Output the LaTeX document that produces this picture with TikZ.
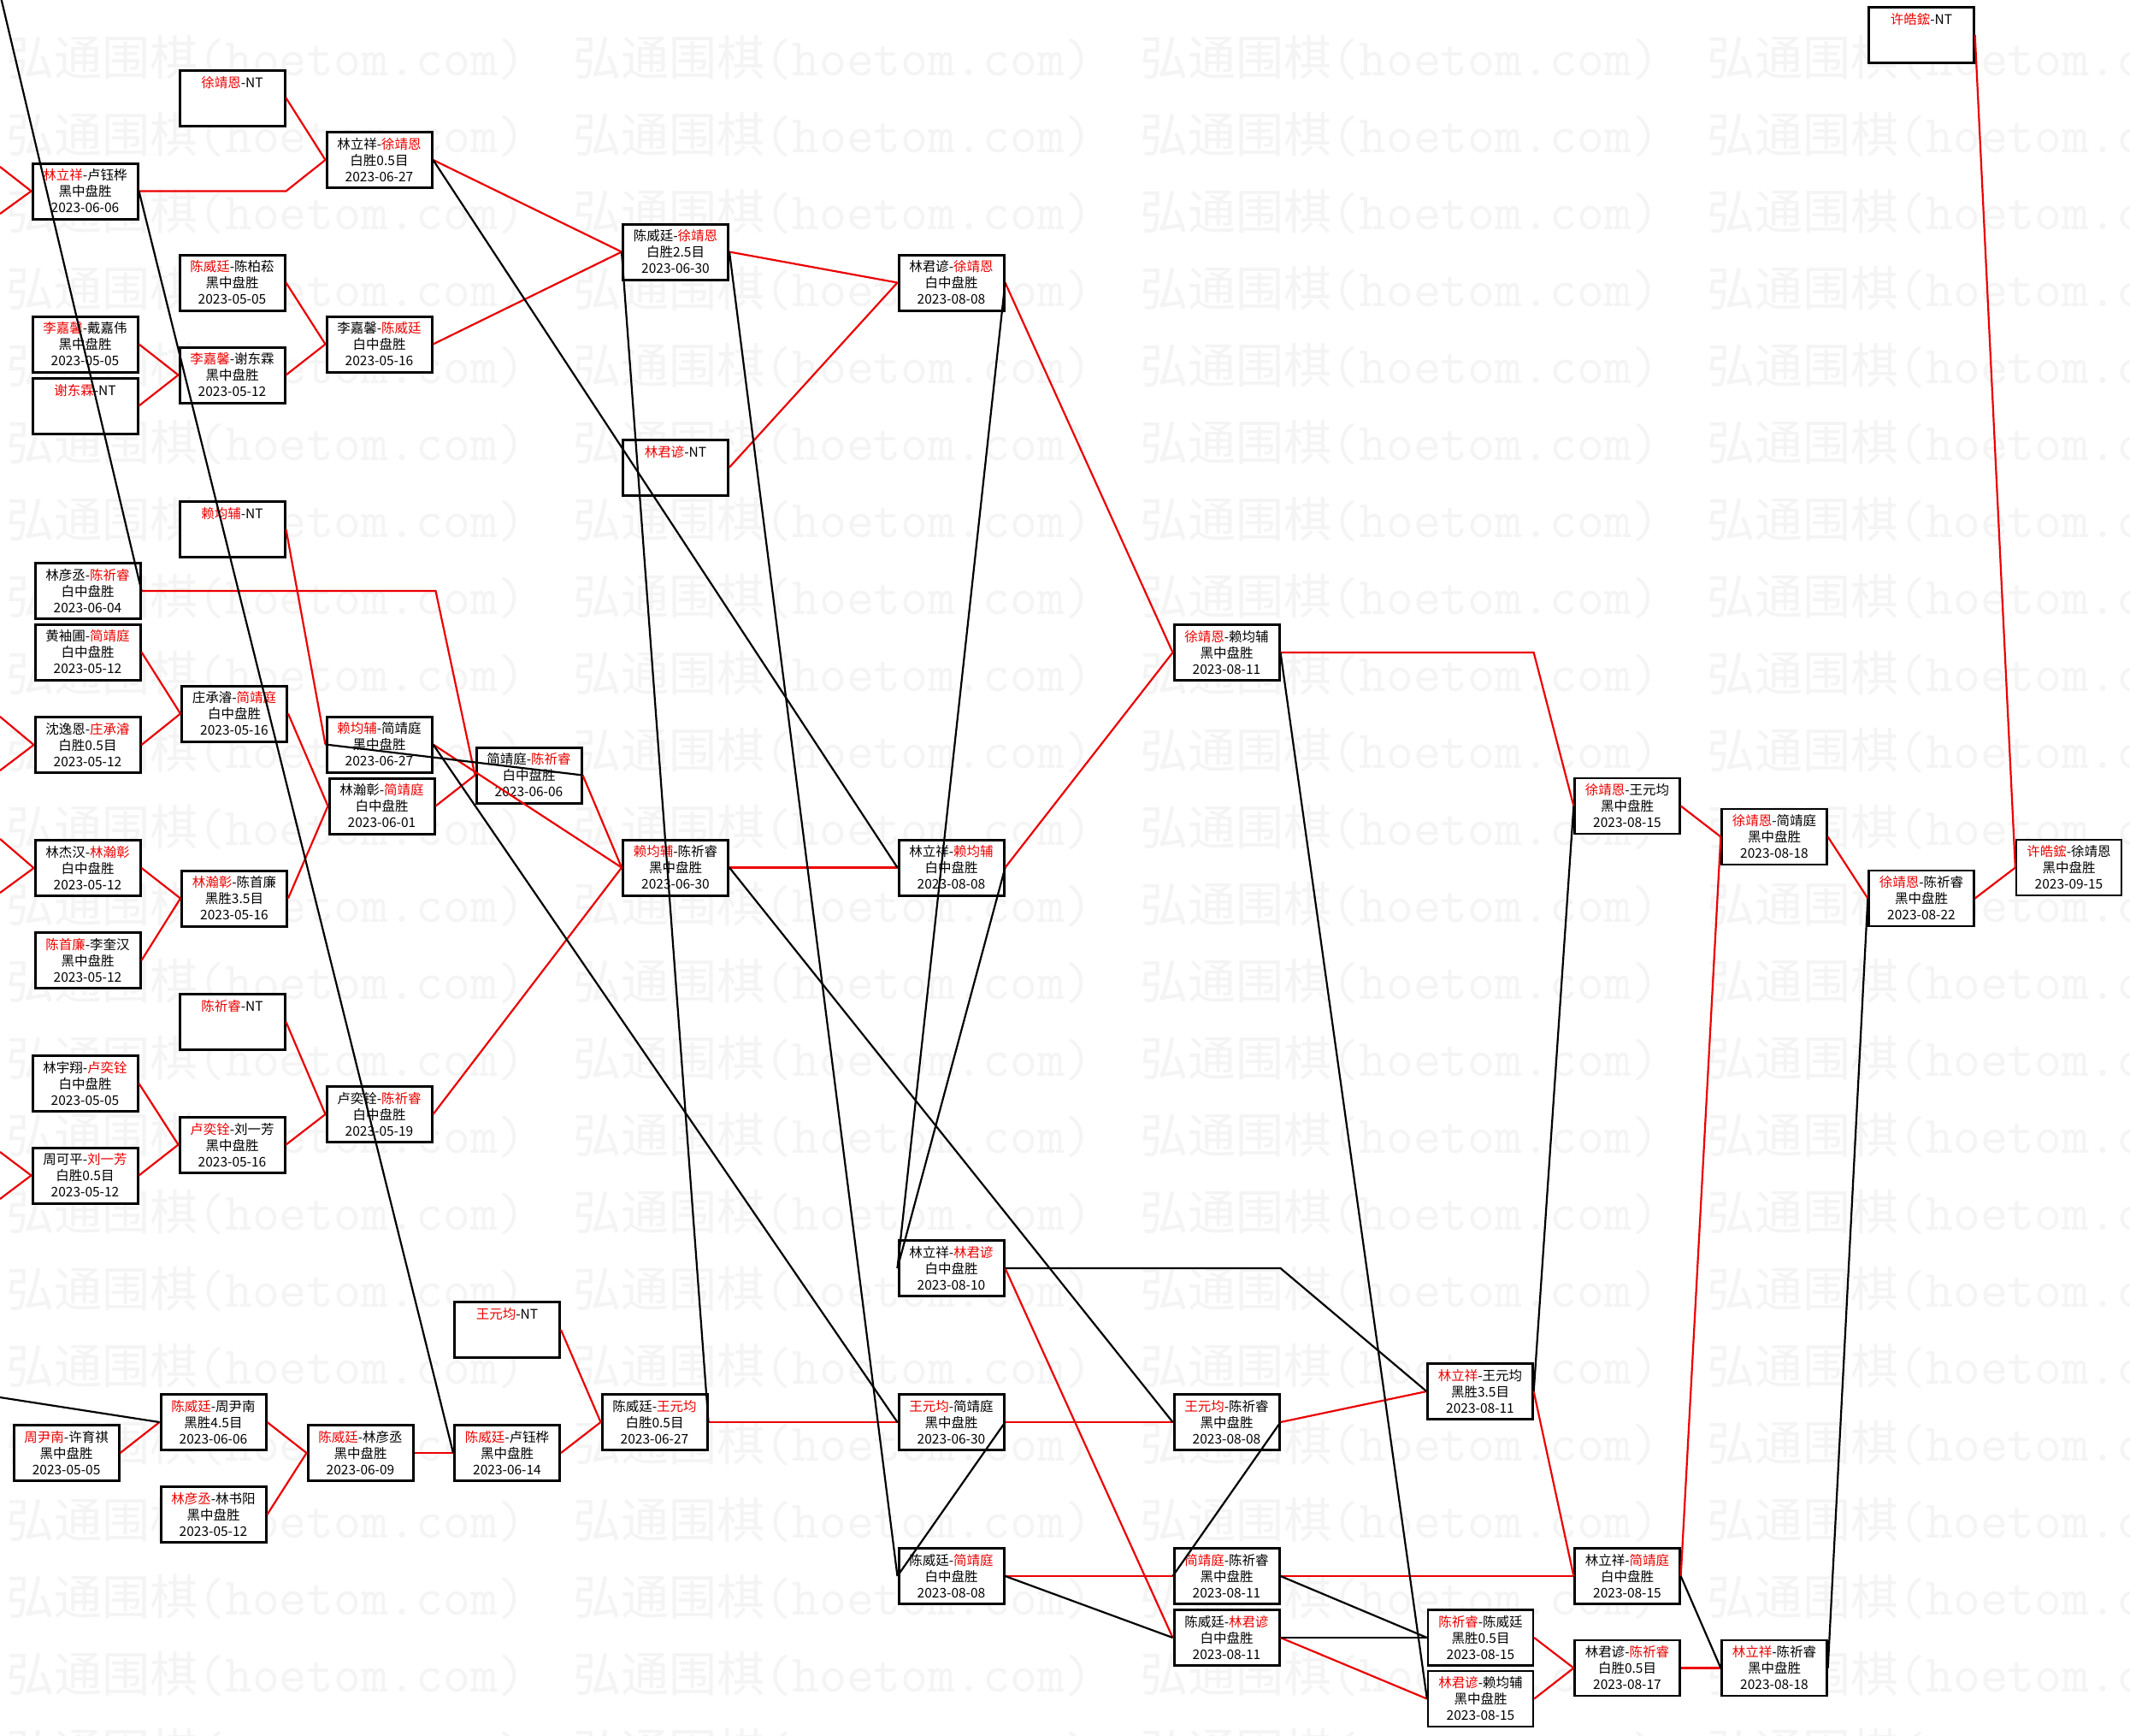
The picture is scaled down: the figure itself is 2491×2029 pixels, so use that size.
\documentclass[tikz,border=0pt]{standalone}
\usepackage{fontspec}
\setmainfont{Noto Sans CJK SC}
\newfontfamily\wmcjk{Noto Sans CJK SC}
\definecolor{wred}{RGB}{235,0,0}
\definecolor{wmark}{RGB}{244,244,244}
\newcommand\rn[1]{\textcolor{wred}{#1}}
\tikzset{
  game/.style={draw=black,line width=3pt,fill=white,minimum width=123pt,minimum height=65pt,inner sep=0pt,align=center,font=\fontsize{15.5}{19}\selectfont},
  gameR/.style={game,line width=2.3pt},
  win/.style={draw=wred,line width=2.2pt},
  lose/.style={draw=black,line width=2.2pt},
  wmtext/.style={anchor=base west,inner sep=0pt,text=wmark}
}
\newcommand\gm[6][game]{\node[#1] (#2) at (#3) {#4\\#5\\#6};}
\newcommand\ntg[4][game]{\node[#1] (#2) at (#3) {#4\\\mbox{}\\\mbox{}};}
\begin{document}
\begin{tikzpicture}[x=1pt,y=-1pt]
\useasboundingbox (0,0) rectangle (2491,2029);
\fill[white] (0,0) rectangle (2491,2029);
\clip (0,0) rectangle (2491,2029);
% watermark
\foreach \k in {0,...,22}{\foreach \j in {0,...,3}{
  \node[wmtext] (wm-\k-\j) at ({7+663*\j},{88+90*\k}) {{\wmcjk\fontsize{56}{56}\selectfont 弘通围棋}{\ttfamily\fontsize{62}{62}\selectfont (hoetom.com)}};}}
% nodes
\gm{n1}{99.5,223.5}{\rn{林立祥}-卢钰桦}{黑中盘胜}{2023-06-06}
\ntg{n2}{271.5,114.5}{\rn{徐靖恩}-NT}
\gm{n3}{443.5,187}{林立祥-\rn{徐靖恩}}{白胜0.5目}{2023-06-27}
\gm{n4}{271.5,330.5}{\rn{陈威廷}-陈柏菘}{黑中盘胜}{2023-05-05}
\gm{n5}{99.5,402.5}{\rn{李嘉馨}-戴嘉伟}{黑中盘胜}{2023-05-05}
\gm{n6}{271.5,438.5}{\rn{李嘉馨}-谢东霖}{黑中盘胜}{2023-05-12}
\gm{n7}{443.5,402.5}{李嘉馨-\rn{陈威廷}}{白中盘胜}{2023-05-16}
\ntg{n8}{99.5,474.5}{\rn{谢东霖}-NT}
\ntg{n9}{271.5,619}{\rn{赖均辅}-NT}
\gm{n10}{102.5,691}{林彦丞-\rn{陈祈睿}}{白中盘胜}{2023-06-04}
\gm{n11}{102.5,762.5}{黄袖圃-\rn{简靖庭}}{白中盘胜}{2023-05-12}
\gm{n12}{274,834.5}{庄承濬-\rn{简靖庭}}{白中盘胜}{2023-05-16}
\gm{n13}{102.5,871}{沈逸恩-\rn{庄承濬}}{白胜0.5目}{2023-05-12}
\gm{n14}{443.5,870.5}{\rn{赖均辅}-简靖庭}{黑中盘胜}{2023-06-27}
\gm{n15}{446.5,942.5}{林瀚彰-\rn{简靖庭}}{白中盘胜}{2023-06-01}
\gm{n16}{102.5,1015}{林杰汉-\rn{林瀚彰}}{白中盘胜}{2023-05-12}
\gm{n17}{274,1050.5}{\rn{林瀚彰}-陈首廉}{黑胜3.5目}{2023-05-16}
\gm{n18}{102.5,1123}{\rn{陈首廉}-李奎汉}{黑中盘胜}{2023-05-12}
\ntg{n19}{271.5,1195}{\rn{陈祈睿}-NT}
\gm{n20}{99.5,1267}{林宇翔-\rn{卢奕铨}}{白中盘胜}{2023-05-05}
\gm{n21}{271.5,1338.5}{\rn{卢奕铨}-刘一芳}{黑中盘胜}{2023-05-16}
\gm{n22}{443.5,1303}{卢奕铨-\rn{陈祈睿}}{白中盘胜}{2023-05-19}
\gm{n23}{99.5,1374.5}{周可平-\rn{刘一芳}}{白胜0.5目}{2023-05-12}
\gm{n24}{77.6,1699}{\rn{周尹南}-许育祺}{黑中盘胜}{2023-05-05}
\gm{n25}{249.5,1663}{\rn{陈威廷}-周尹南}{黑胜4.5目}{2023-06-06}
\gm{n26}{249.5,1771}{\rn{林彦丞}-林书阳}{黑中盘胜}{2023-05-12}
\gm{n27}{421.5,1699}{\rn{陈威廷}-林彦丞}{黑中盘胜}{2023-06-09}
\gm{n28}{593,1699}{\rn{陈威廷}-卢钰桦}{黑中盘胜}{2023-06-14}
\ntg{n29}{593,1555}{\rn{王元均}-NT}
\gm{n30}{765.5,1663}{陈威廷-\rn{王元均}}{白胜0.5目}{2023-06-27}
\gm{n31}{1112.5,1663}{\rn{王元均}-简靖庭}{黑中盘胜}{2023-06-30}
\gm{n32}{618.5,906.5}{简靖庭-\rn{陈祈睿}}{白中盘胜}{2023-06-06}
\gm{n33}{790,294.5}{陈威廷-\rn{徐靖恩}}{白胜2.5目}{2023-06-30}
\ntg{n34}{790,546.5}{\rn{林君谚}-NT}
\gm{n35}{790,1014.5}{\rn{赖均辅}-陈祈睿}{黑中盘胜}{2023-06-30}
\gm{n36}{1112.5,330.5}{林君谚-\rn{徐靖恩}}{白中盘胜}{2023-08-08}
\gm{n37}{1112.5,1014.5}{林立祥-\rn{赖均辅}}{白中盘胜}{2023-08-08}
\gm{n38}{1112.5,1483}{林立祥-\rn{林君谚}}{白中盘胜}{2023-08-10}
\gm{n39}{1112.5,1843}{陈威廷-\rn{简靖庭}}{白中盘胜}{2023-08-08}
\gm{n40}{1434.5,763}{\rn{徐靖恩}-赖均辅}{黑中盘胜}{2023-08-11}
\gm{n41}{1434.5,1663}{\rn{王元均}-陈祈睿}{黑中盘胜}{2023-08-08}
\gm{n42}{1434.5,1843}{\rn{简靖庭}-陈祈睿}{黑中盘胜}{2023-08-11}
\gm{n43}{1434.5,1915}{陈威廷-\rn{林君谚}}{白中盘胜}{2023-08-11}
\gm[gameR]{n44}{1731,1627}{\rn{林立祥}-王元均}{黑胜3.5目}{2023-08-11}
\gm[gameR]{n45}{1731.5,1915}{\rn{陈祈睿}-陈威廷}{黑胜0.5目}{2023-08-15}
\gm[gameR]{n46}{1731.5,1986.5}{\rn{林君谚}-赖均辅}{黑中盘胜}{2023-08-15}
\gm[gameR]{n47}{1903,942.5}{\rn{徐靖恩}-王元均}{黑中盘胜}{2023-08-15}
\gm[gameR]{n48}{1903,1843}{林立祥-\rn{简靖庭}}{白中盘胜}{2023-08-15}
\gm[gameR]{n49}{1903,1950.5}{林君谚-\rn{陈祈睿}}{白胜0.5目}{2023-08-17}
\gm[gameR]{n50}{2075,978.5}{\rn{徐靖恩}-简靖庭}{黑中盘胜}{2023-08-18}
\gm[gameR]{n51}{2075,1950.5}{\rn{林立祥}-陈祈睿}{黑中盘胜}{2023-08-18}
\ntg[gameR]{n52}{2247,41}{\rn{许皓鋐}-NT}
\gm[gameR]{n53}{2247,1050.5}{\rn{徐靖恩}-陈祈睿}{黑中盘胜}{2023-08-22}
\gm[gameR]{n54}{2419.5,1014.5}{\rn{许皓鋐}-徐靖恩}{黑中盘胜}{2023-09-15}
% free ends
\coordinate (fa1) at (0,195);
\coordinate (fa2) at (0,250);
\coordinate (fb1) at (0,838);
\coordinate (fb2) at (0,901);
\coordinate (fc1) at (0,981);
\coordinate (fc2) at (0,1044);
\coordinate (fd1) at (0,1347);
\coordinate (fd2) at (0,1402);
\coordinate (fe) at (0,1634);
\coordinate (fk) at (-3,-20);
% winner connectors
\draw[win] (fa1) -- (n1.west);
\draw[win] (fa2) -- (n1.west);
\draw[win] (fb1) -- (n13.west);
\draw[win] (fb2) -- (n13.west);
\draw[win] (fc1) -- (n16.west);
\draw[win] (fc2) -- (n16.west);
\draw[win] (fd1) -- (n23.west);
\draw[win] (fd2) -- (n23.west);
\draw[win] (n2.east) -- (n3.west);
\draw[win] (n1.east) -- (n1.east -| n2.east) -- (n3.west);
\draw[win] (n5.east) -- (n6.west);
\draw[win] (n8.east) -- (n6.west);
\draw[win] (n4.east) -- (n7.west);
\draw[win] (n6.east) -- (n7.west);
\draw[win] (n3.east) -- (n33.west);
\draw[win] (n7.east) -- (n33.west);
\draw[win] (n11.east) -- (n12.west);
\draw[win] (n13.east) -- (n12.west);
\draw[win] (n9.east) -- (n14.west);
\draw[win] (n12.east) -- (n15.west);
\draw[win] (n17.east) -- (n15.west);
\draw[win] (n16.east) -- (n17.west);
\draw[win] (n18.east) -- (n17.west);
\draw[win] (n10.east) -- (n10.east -| n15.east) -- (n32.west);
\draw[win] (n15.east) -- (n32.west);
\draw[win] (n14.east) -- (n35.west);
\draw[win] (n32.east) -- (n35.west);
\draw[win] (n22.east) -- (n35.west);
\draw[win] (n19.east) -- (n22.west);
\draw[win] (n21.east) -- (n22.west);
\draw[win] (n20.east) -- (n21.west);
\draw[win] (n23.east) -- (n21.west);
\draw[win] (n24.east) -- (n25.west);
\draw[win] (n25.east) -- (n27.west);
\draw[win] (n26.east) -- (n27.west);
\draw[win] (n27.east) -- (n28.west);
\draw[win] (n28.east) -- (n30.west);
\draw[win] (n29.east) -- (n30.west);
\draw[win] (n30.east) -- (n31.west);
\draw[win] (n33.east) -- (n36.west);
\draw[win] (n34.east) -- (n36.west);
\draw[win] (n35.east) -- (n37.west);
\draw[win] (n36.east) -- (n40.west);
\draw[win] (n37.east) -- (n40.west);
\draw[win] (n31.east) -- (n41.west);
\draw[win] (n38.east) -- (n43.west);
\draw[win] (n39.east) -- (n42.west);
\draw[win] (n40.east) -- (n40.east -| n44.east) -- (n47.west);
\draw[win] (n41.east) -- (n44.west);
\draw[win] (n44.east) -- (n48.west);
\draw[win] (n42.east) -- (n48.west);
\draw[win] (n43.east) -- (n46.west);
\draw[win] (n45.east) -- (n49.west);
\draw[win] (n46.east) -- (n49.west);
\draw[win] (n49.east) -- (n51.west);
\draw[win] (n47.east) -- (n50.west);
\draw[win] (n48.east) -- (n50.west);
\draw[win] (n50.east) -- (n53.west);
\draw[win] (n53.east) -- (n54.west);
\draw[win] (n52.east) -- (n54.west);
% loser connectors
\draw[lose] (n10.east) -- (fk);
\draw[lose] (fe) -- (n25.west);
\draw[lose] (n1.east) -- (n28.west);
\draw[lose] (n3.east) -- (n37.west);
\draw[lose] (n32.east) -- (n14.west);
\draw[lose] (n14.east) -- (n31.west);
\draw[lose] (n30.east) -- (n33.west);
\draw[lose] (n33.east) -- (n39.west);
\draw[lose] (n36.east) -- (n38.west);
\draw[lose] (n37.east) -- (n38.west);
\draw[lose] (n35.east) -- (n41.west);
\draw[lose] (n31.east) -- (n39.west);
\draw[lose] (n39.east) -- (n43.west);
\draw[lose] (n38.east) -- (n38.east -| n41.east) -- (n44.west);
\draw[lose] (n41.east) -- (n42.west);
\draw[lose] (n42.east) -- (n45.west);
\draw[lose] (n43.east) -- (n45.west);
\draw[lose] (n40.east) -- (n46.west);
\draw[lose] (n44.east) -- (n47.west);
\draw[lose] (n48.east) -- (n51.west);
\draw[lose] (n51.east) -- (n53.west);
\end{tikzpicture}
\end{document}
